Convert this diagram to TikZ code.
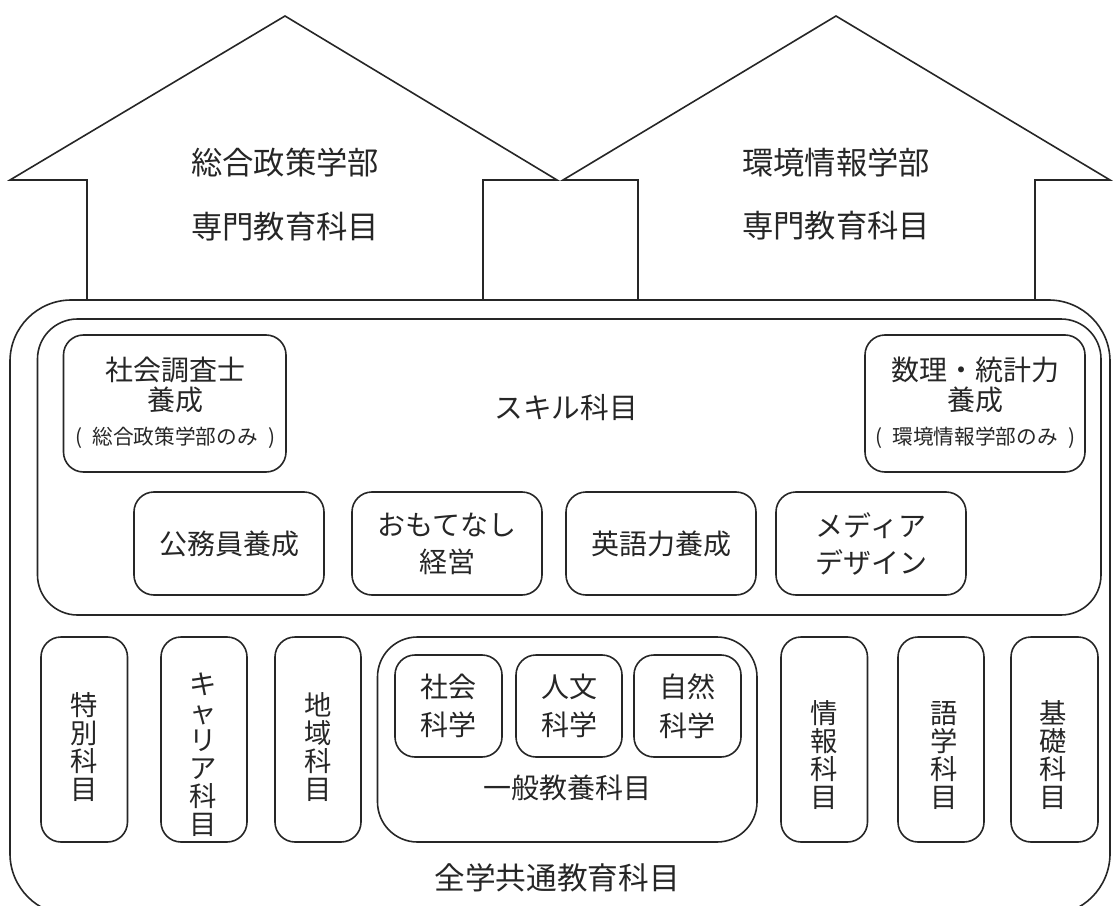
\documentclass[tikz,border=0pt]{standalone}
\usepackage{fontspec}
\setmainfont{Noto Sans CJK JP}
\usetikzlibrary{fit}
\begin{document}
\begin{tikzpicture}[x=0.75pt,y=-0.75pt,
  ln/.style={line width=1.2pt, draw=black!85},
  box/.style={ln, rounded corners=15pt, inner sep=0pt},
  bigbox/.style={ln, rounded corners=30pt, inner sep=0pt},
  txt/.style={text=black!85, inner sep=0pt, align=center},
  ttl/.style={txt, font=\fontsize{23.5}{28}\selectfont},
  lbl/.style={txt, font=\fontsize{21}{27.75}\selectfont},
  vtx/.style={txt, font=\fontsize{20.5}{21}\selectfont}]
\useasboundingbox (0,0) rectangle (1115,906);
% houses
\draw[ln] (87,300) -- (87,180) -- (10,180) -- (285,16) -- (557,180) -- (483,180) -- (483,300);
\draw[ln] (638,300) -- (638,180) -- (563,180) -- (836,16) -- (1110,180) -- (1035,180) -- (1035,300);
\node[ttl] (h1a) at (285,163) {総合政策学部};
\node[ttl] (h1b) at (285,227) {専門教育科目};
\node[ttl] (h2a) at (836,163) {環境情報学部};
\node[ttl] (h2b) at (836,226) {専門教育科目};
% outer
\node[ln, rounded corners=46pt, inner sep=0pt, fit={(10,300)(1110,915)}] (outer) {};
\node[ttl, font=\fontsize{23}{28}\selectfont] (zengaku) at (557,878) {全学共通教育科目};
% skill
\node[bigbox, fit={(37.5,319)(1101,615)}] (skill) {};
\node[lbl, font=\fontsize{21.5}{28}\selectfont] (skilltxt) at (566,408) {スキル科目};
\node[box, fit={(63.5,335)(286,472)}] (shakai) {};
\node[lbl, font=\fontsize{21}{22.5}\selectfont] (shakaitxt) at (175,403) {社会調査士\\養成\\[3pt]{\fontsize{15.5}{18}\selectfont (\hspace{0.5em}総合政策学部のみ\hspace{0.5em})}};
\node[box, fit={(865,335)(1085,472)}] (suri) {};
\node[lbl, font=\fontsize{21}{22.5}\selectfont] (suritxt) at (975,403) {数理・統計力\\養成\\[3pt]{\fontsize{15.5}{18}\selectfont (\hspace{0.5em}環境情報学部のみ\hspace{0.5em})}};
\node[box, fit={(134,492)(324,595)}] (komu) {};
\node[lbl] (komutxt) at (komu.center) {公務員養成};
\node[box, fit={(352,492)(542,595)}] (omote) {};
\node[lbl] (omotetxt) at (omote.center) {おもてなし\\経営};
\node[box, fit={(566,492)(756,595)}] (eigo) {};
\node[lbl] (eigotxt) at (eigo.center) {英語力養成};
\node[box, fit={(776,492)(966,595)}] (media) {};
\node[lbl] (mediatxt) at (media.center) {メディア\\デザイン};
% bottom row
\node[box, fit={(41,637)(127.5,842)}] (toku) {};
\node[vtx] (tokutxt) at (84.5,747.5) {特\\別\\科\\目};
\node[box, fit={(161,637)(247,842)}] (career) {};
\node[vtx] (careertxt) at (203.5,755) {キ\\ャ\\リ\\ア\\科\\目};
\node[box, fit={(275,637)(361,842)}] (chiiki) {};
\node[vtx] (chiikitxt) at (318,747.5) {地\\域\\科\\目};
\node[bigbox, fit={(377.5,637)(757,842)}] (ippan) {};
\node[lbl] (ippantxt) at (567,788) {一般教養科目};
\node[box, fit={(395,655)(502,757)}] (shaka) {};
\node[lbl, font=\fontsize{21}{29}\selectfont] (shakatxt) at (shaka.center) {社会\\科学};
\node[box, fit={(516,655)(622,757)}] (jinbun) {};
\node[lbl, font=\fontsize{21}{29}\selectfont] (jinbuntxt) at (jinbun.center) {人文\\科学};
\node[box, fit={(634,655)(741,757)}] (shizen) {};
\node[lbl, font=\fontsize{21}{29}\selectfont] (shizentxt) at (shizen.center) {自然\\科学};
\node[box, fit={(781,637)(867.5,842)}] (joho) {};
\node[vtx] (johotxt) at (824,755.5) {情\\報\\科\\目};
\node[box, fit={(898,637)(984,842)}] (gogaku) {};
\node[vtx] (gogakutxt) at (944,756) {語\\学\\科\\目};
\node[box, fit={(1011,637)(1098,842)}] (kiso) {};
\node[vtx] (kisotxt) at (1053,755) {基\\礎\\科\\目};
\end{tikzpicture}
\end{document}
